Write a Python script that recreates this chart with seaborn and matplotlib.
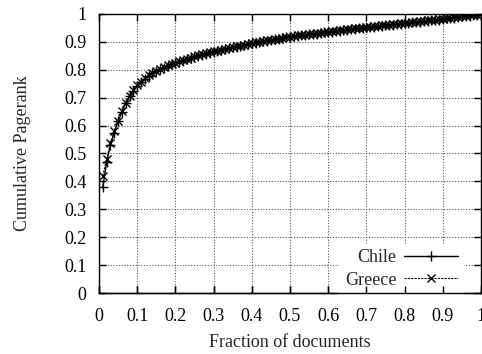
import numpy as np
import pandas as pd
import matplotlib
matplotlib.use("Agg")
import matplotlib.pyplot as plt
import seaborn as sns

fraction = [round(0.01 * i, 2) for i in range(1, 101)]

chile = [0.380, 0.470, 0.530, 0.575, 0.615, 0.650, 0.680, 0.705, 0.725, 0.742,
         0.756, 0.768, 0.778, 0.787, 0.795, 0.802, 0.808, 0.814, 0.819, 0.824,
         0.829, 0.833, 0.838, 0.842, 0.846, 0.850, 0.854, 0.858, 0.861, 0.865,
         0.868, 0.871, 0.874, 0.877, 0.880, 0.883, 0.886, 0.889, 0.892, 0.895,
         0.897, 0.900, 0.902, 0.904, 0.907, 0.909, 0.911, 0.913, 0.916, 0.918,
         0.920, 0.922, 0.923, 0.925, 0.927, 0.929, 0.930, 0.932, 0.934, 0.935,
         0.937, 0.939, 0.940, 0.942, 0.944, 0.945, 0.947, 0.949, 0.950, 0.952,
         0.953, 0.955, 0.956, 0.958, 0.959, 0.961, 0.962, 0.964, 0.965, 0.967,
         0.968, 0.970, 0.971, 0.973, 0.974, 0.976, 0.977, 0.979, 0.980, 0.982,
         0.984, 0.986, 0.987, 0.989, 0.991, 0.993, 0.994, 0.996, 0.998, 1.000]

greece = [0.420, 0.480, 0.536, 0.580, 0.618, 0.652, 0.682, 0.707, 0.727, 0.744,
          0.758, 0.770, 0.780, 0.789, 0.797, 0.804, 0.810, 0.816, 0.821, 0.826,
          0.831, 0.835, 0.840, 0.844, 0.848, 0.852, 0.856, 0.859, 0.863, 0.866,
          0.869, 0.872, 0.875, 0.878, 0.881, 0.884, 0.887, 0.890, 0.893, 0.896,
          0.898, 0.901, 0.903, 0.905, 0.908, 0.910, 0.912, 0.914, 0.917, 0.919,
          0.921, 0.923, 0.924, 0.926, 0.928, 0.930, 0.931, 0.933, 0.935, 0.936,
          0.938, 0.940, 0.941, 0.943, 0.945, 0.946, 0.948, 0.950, 0.951, 0.953,
          0.954, 0.956, 0.957, 0.959, 0.960, 0.962, 0.963, 0.965, 0.966, 0.968,
          0.969, 0.971, 0.972, 0.974, 0.975, 0.977, 0.978, 0.980, 0.981, 0.983,
          0.985, 0.986, 0.988, 0.990, 0.991, 0.993, 0.995, 0.996, 0.998, 1.000]

xticks = [0, 0.1, 0.2, 0.3, 0.4, 0.5, 0.6, 0.7, 0.8, 0.9, 1]
yticks = [0, 0.1, 0.2, 0.3, 0.4, 0.5, 0.6, 0.7, 0.8, 0.9, 1]
tick_labels = ["0", "0.1", "0.2", "0.3", "0.4", "0.5", "0.6", "0.7", "0.8", "0.9", "1"]

sns.set_style("ticks")
plt.rcParams["font.family"] = ["Liberation Serif", "DejaVu Serif"]
plt.rcParams["font.size"] = 13

fig = plt.figure(figsize=(4.82, 3.54), dpi=100)
ax = fig.add_axes([0.2054, 0.1723, 0.7925, 0.7882])
# overlay axes used only to draw the bottom ticks above the legend box
ax2 = ax.twiny()

df_c = pd.DataFrame({"x": fraction, "y": chile})
df_g = pd.DataFrame({"x": fraction, "y": greece})

sns.lineplot(data=df_c, x="x", y="y", ax=ax, color="black", linewidth=1.0,
             marker="+", markersize=7.5, markeredgewidth=1.0,
             markeredgecolor="black", markerfacecolor="black", label="Chile")
sns.lineplot(data=df_g, x="x", y="y", ax=ax, color="black", linewidth=0.8,
             linestyle=(0, (2, 1)), marker="x", markersize=5.5,
             markeredgewidth=1.0, markeredgecolor="black",
             markerfacecolor="black", label="Greece")

ax.set_xlim(0, 1)
ax.set_ylim(0, 1)
ax.set_xticks(xticks)
ax.set_yticks(yticks)
ax.set_xticklabels(tick_labels, fontsize=13)
ax.set_yticklabels(tick_labels, fontsize=13)
ax.xaxis.set_ticks_position("both")
ax.yaxis.set_ticks_position("both")
ax.tick_params(direction="in", length=5, width=1, top=True, right=True,
               bottom=True, left=True, labeltop=False, labelright=False,
               colors="black")
ax.tick_params(axis="x", pad=11)
ax.tick_params(axis="y", pad=9)
ax.grid(True, linestyle=(0, (1, 1.5)), color="#555555", linewidth=0.8)
for s in ax.spines.values():
    s.set_linewidth(1.0)
    s.set_color("black")

ax.set_xlabel("Fraction of documents", fontsize=13, labelpad=6)
ax.set_ylabel("Cumulative Pagerank", fontsize=13, labelpad=24)

leg = ax.legend(loc="lower right", bbox_to_anchor=(0.958, -0.01),
                frameon=True, markerfirst=False,
                fontsize=13, handlelength=3.0, handletextpad=0.4,
                labelspacing=0.3, borderaxespad=0.1, borderpad=0.3,
                fancybox=False, edgecolor="white", framealpha=1)
for t in leg.get_texts():
    t.set_ha("right")

ax2.set_xlim(0, 1)
ax2.set_xticks(xticks)
ax2.xaxis.set_ticks_position("bottom")
ax2.tick_params(direction="in", length=5, width=1, labelbottom=False,
                labeltop=False, top=False, bottom=True, colors="black")
ax2.grid(False)
for name, s in ax2.spines.items():
    s.set_visible(name == "bottom")
    s.set_linewidth(1.0)
    s.set_color("black")

fig.savefig("out.png", dpi=100)
